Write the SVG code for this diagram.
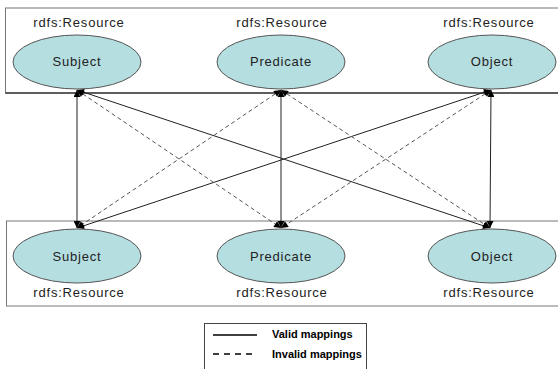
<svg xmlns="http://www.w3.org/2000/svg" width="558" height="369" viewBox="0 0 558 369">
<style>
.box{fill:#fff;stroke:#777;stroke-width:1}
.ell{fill:#b5dee1;stroke:#555;stroke-width:1}
.t{font-family:"Liberation Sans",Arial,sans-serif;font-size:13px;letter-spacing:0.8px;fill:#222;text-anchor:middle}
.lg{font-family:"Liberation Sans",Arial,sans-serif;font-size:11px;font-weight:bold;fill:#000}
.solid{stroke:#222;stroke-width:1;fill:none}
.dash{stroke:#555;stroke-width:1;stroke-dasharray:4,3;fill:none}
</style>
<defs>
<marker id="ah" viewBox="0 0 10 10" refX="10" refY="5" markerWidth="9" markerHeight="7" markerUnits="userSpaceOnUse" orient="auto-start-reverse">
<path d="M0,0 L10,5 L0,10 z" fill="#000"/>
</marker>
</defs>
<rect width="558" height="369" fill="#fff"/>
<g id="topBox">
<rect class="box" x="5.5" y="8" width="560" height="85"/>
<line x1="5.5" y1="93" x2="558" y2="93" stroke="#000"/>
</g>
<g id="bottomBox">
<rect class="box" x="6.5" y="221" width="560" height="85"/>
</g>
<g id="connectors">
<line class="solid" x1="77" y1="90" x2="77" y2="228" marker-start="url(#ah)" marker-end="url(#ah)"/>
<line class="solid" x1="281" y1="90" x2="281" y2="228" marker-start="url(#ah)" marker-end="url(#ah)"/>
<line class="solid" x1="491" y1="90" x2="490" y2="228" marker-start="url(#ah)" marker-end="url(#ah)"/>
<line class="solid" x1="77" y1="90" x2="490" y2="228" marker-start="url(#ah)" marker-end="url(#ah)"/>
<line class="solid" x1="491" y1="90" x2="77" y2="228" marker-start="url(#ah)" marker-end="url(#ah)"/>
<line class="dash" x1="77" y1="90" x2="281" y2="228" marker-start="url(#ah)" marker-end="url(#ah)"/>
<line class="dash" x1="281" y1="90" x2="77" y2="228" marker-start="url(#ah)" marker-end="url(#ah)"/>
<line class="dash" x1="281" y1="90" x2="490" y2="228" marker-start="url(#ah)" marker-end="url(#ah)"/>
<line class="dash" x1="491" y1="90" x2="281" y2="228" marker-start="url(#ah)" marker-end="url(#ah)"/>
</g>
<g id="topSubject">
<text class="t" x="79" y="27">rdfs:Resource</text>
<ellipse class="ell" cx="77" cy="62" rx="64" ry="27"/>
<text class="t" x="77" y="66">Subject</text>
</g>
<g id="topPredicate">
<text class="t" x="282" y="27">rdfs:Resource</text>
<ellipse class="ell" cx="281" cy="62" rx="64" ry="27"/>
<text class="t" x="281" y="66">Predicate</text>
</g>
<g id="topObject">
<text class="t" x="489" y="27">rdfs:Resource</text>
<ellipse class="ell" cx="492" cy="62" rx="64" ry="27"/>
<text class="t" x="492" y="66">Object</text>
</g>
<g id="bottomSubject">
<ellipse class="ell" cx="77" cy="256" rx="64" ry="27"/>
<text class="t" x="77" y="261">Subject</text>
<text class="t" x="79" y="297">rdfs:Resource</text>
</g>
<g id="bottomPredicate">
<ellipse class="ell" cx="281" cy="256" rx="64" ry="27"/>
<text class="t" x="281" y="261">Predicate</text>
<text class="t" x="282" y="297">rdfs:Resource</text>
</g>
<g id="bottomObject">
<ellipse class="ell" cx="492" cy="256" rx="64" ry="27"/>
<text class="t" x="492" y="261">Object</text>
<text class="t" x="489" y="297">rdfs:Resource</text>
</g>
<g id="legend">
<rect x="204.5" y="323.5" width="162" height="60" fill="#fff" stroke="#444"/>
<line x1="213" y1="335" x2="257" y2="335" stroke="#000" stroke-width="1.5"/>
<line x1="213" y1="354" x2="257" y2="354" stroke="#000" stroke-width="1.5" stroke-dasharray="6,5"/>
<text class="lg" x="272" y="338">Valid mappings</text>
<text class="lg" x="272" y="357.5">Invalid mappings</text>
</g>
</svg>
